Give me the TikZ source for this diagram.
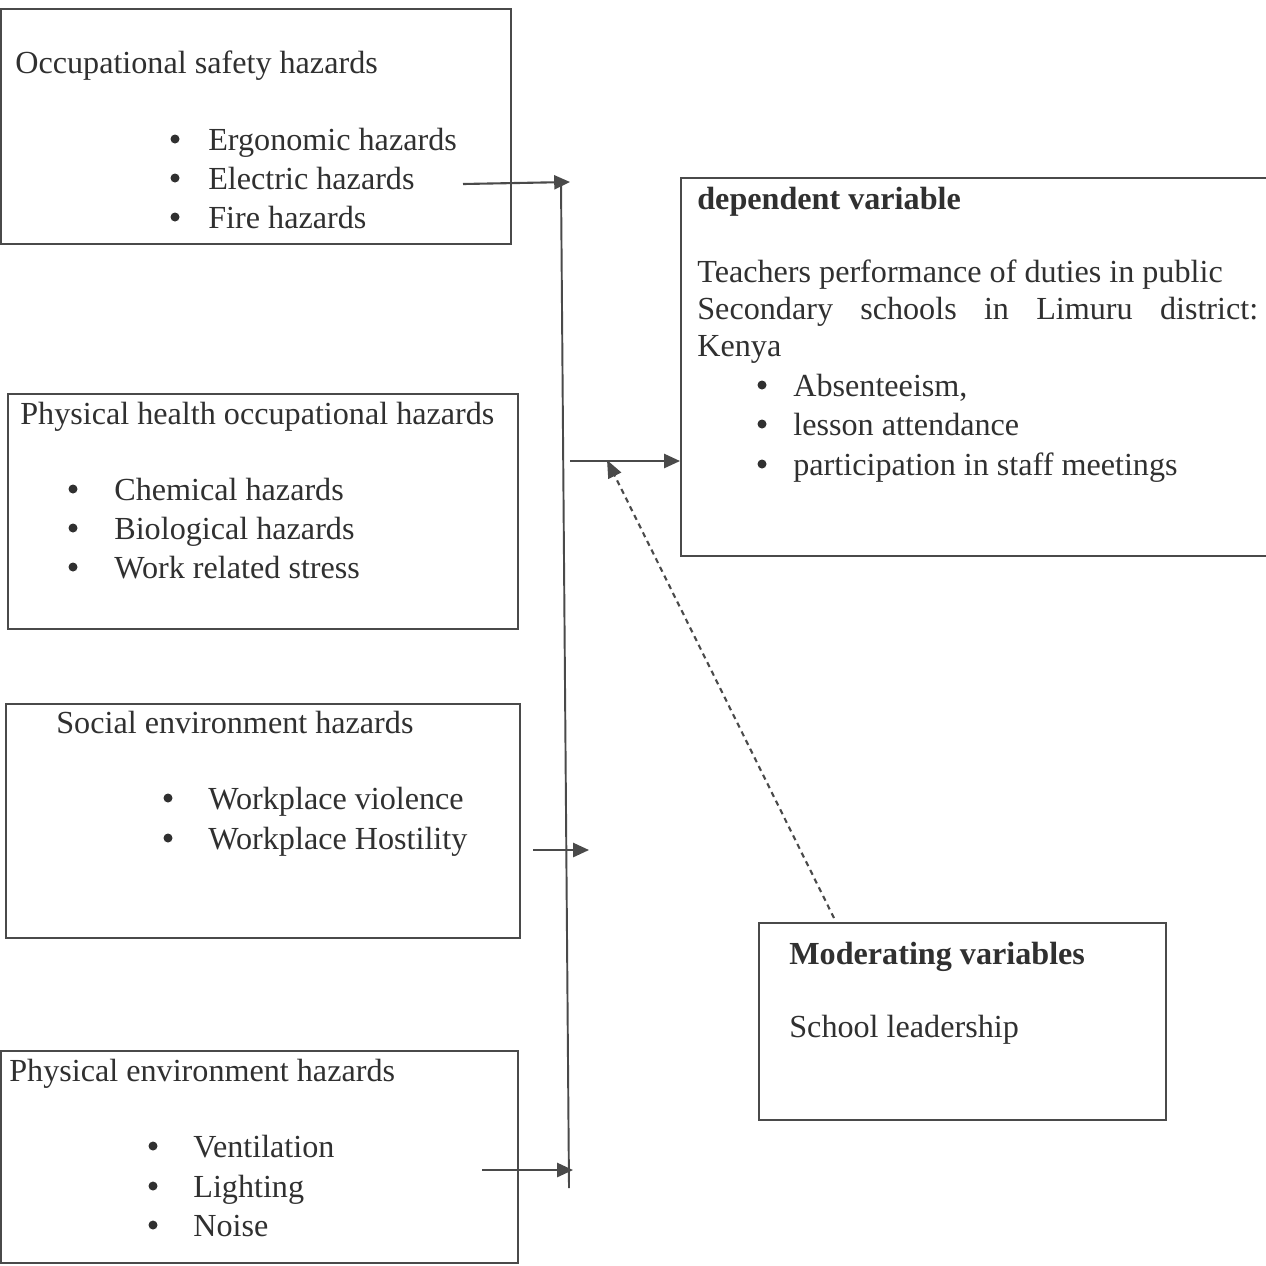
\documentclass[tikz,border=0pt]{standalone}
\usepackage{fontspec}
\setmainfont{Liberation Serif}
\usetikzlibrary{arrows.meta}
\definecolor{ln}{HTML}{4A4A4A}
\definecolor{tx}{HTML}{303030}
\begin{document}
\begin{tikzpicture}[x=0.02cm,y=-0.02cm,
  boxst/.style={draw=ln,line width=1.1pt,rectangle,inner sep=0pt,anchor=north west},
  txt/.style={anchor=base west,inner sep=0pt,text=tx,font=\fontsize{18.3}{22}\selectfont},
  ttl/.style={txt,font=\fontsize{18.3}{22}\selectfont\bfseries},
  arr/.style={draw=ln,line width=1.2pt,-{Triangle[length=9pt,width=8pt]}},
  dasharr/.style={draw=ln,line width=1.2pt,dash pattern=on 3pt off 2.5pt,-{Triangle[length=10pt,width=8pt]}},
  bul/.style={fill=tx}]
\useasboundingbox (0,0) rectangle (1266,1265);
\fill[white] (0,0) rectangle (1266,1265);
\clip (0,0) rectangle (1266,1265);
% boxes
\node[boxst,minimum width=10.2cm,minimum height=4.7cm] (b1) at (0,8) {};
\node[boxst,minimum width=10.2cm,minimum height=4.7cm] (b2) at (7,393) {};
\node[boxst,minimum width=10.28cm,minimum height=4.68cm] (b3) at (5,703) {};
\node[boxst,minimum width=10.34cm,minimum height=4.24cm] (b4) at (0,1050) {};
\node[boxst,minimum width=12cm,minimum height=7.56cm] (dep) at (680,177) {};
\node[boxst,minimum width=8.14cm,minimum height=3.94cm] (mod) at (758,922) {};
% box 1
\node[txt] (t1) at (15,73) {Occupational safety hazards};
\node[txt] (t1a) at (208,150) {Ergonomic hazards};
\node[txt] (t1b) at (208,189) {Electric hazards};
\node[txt] (t1c) at (208,228) {Fire hazards};
\foreach \y in {150,189,228} \fill[bul] (175,\y-11) circle (4.5);
% box 2
\node[txt] (t2) at (20,424) {Physical health occupational hazards};
\node[txt] (t2a) at (114,500) {Chemical hazards};
\node[txt] (t2b) at (114,539) {Biological hazards};
\node[txt] (t2c) at (114,578) {Work related stress};
\foreach \y in {500,539,578} \fill[bul] (73,\y-11) circle (4.5);
% box 3
\node[txt] (t3) at (56,733) {Social environment hazards};
\node[txt] (t3a) at (208,809) {Workplace violence};
\node[txt] (t3b) at (208,849) {Workplace Hostility};
\foreach \y in {809,849} \fill[bul] (168,\y-11) circle (4.5);
% box 4
\node[txt] (t4) at (9,1081) {Physical environment hazards};
\node[txt] (t4a) at (193,1157) {Ventilation};
\node[txt] (t4b) at (193,1197) {Lighting};
\node[txt] (t4c) at (193,1236) {Noise};
\foreach \y in {1157,1197,1236} \fill[bul] (153,\y-11) circle (4.5);
% dependent
\node[ttl] (dt) at (697,209) {dependent variable};
\node[txt] (d1) at (697,282) {Teachers performance of duties in public};
\node[txt] (d2) at (697,319) {\makebox[11.22cm][s]{Secondary schools in Limuru district:}};
\node[txt] (d3) at (697,356) {Kenya};
\node[txt] (da) at (793,396) {Absenteeism,};
\node[txt] (db) at (793,435) {lesson attendance};
\node[txt] (dc) at (793,475) {participation in staff meetings};
\foreach \y in {396,435,475} \fill[bul] (762,\y-11) circle (4.5);
% moderating
\node[ttl] (mt) at (789,964) {Moderating variables};
\node[txt] (m1) at (789,1037) {School leadership};
% connectors
\coordinate (s1) at (463,184);
\coordinate (e1) at (570,182);
\coordinate (vt) at (561,183);
\coordinate (vb) at (569,1188);
\coordinate (s2) at (570,461);
\coordinate (s3) at (533,850);
\coordinate (e3) at (589,850);
\coordinate (s4) at (482,1170);
\coordinate (e4) at (573,1170);
\coordinate (ms) at (834,918);
\coordinate (me) at (607,460);
\draw[draw=ln,line width=1.1pt] (vt) -- (vb);
\draw[arr] (s1) -- (e1);
\draw[arr] (s2) -- (dep.west |- s2);
\draw[arr] (s3) -- (e3);
\draw[arr] (s4) -- (e4);
\draw[dasharr] (ms) -- (me);
\end{tikzpicture}
\end{document}
